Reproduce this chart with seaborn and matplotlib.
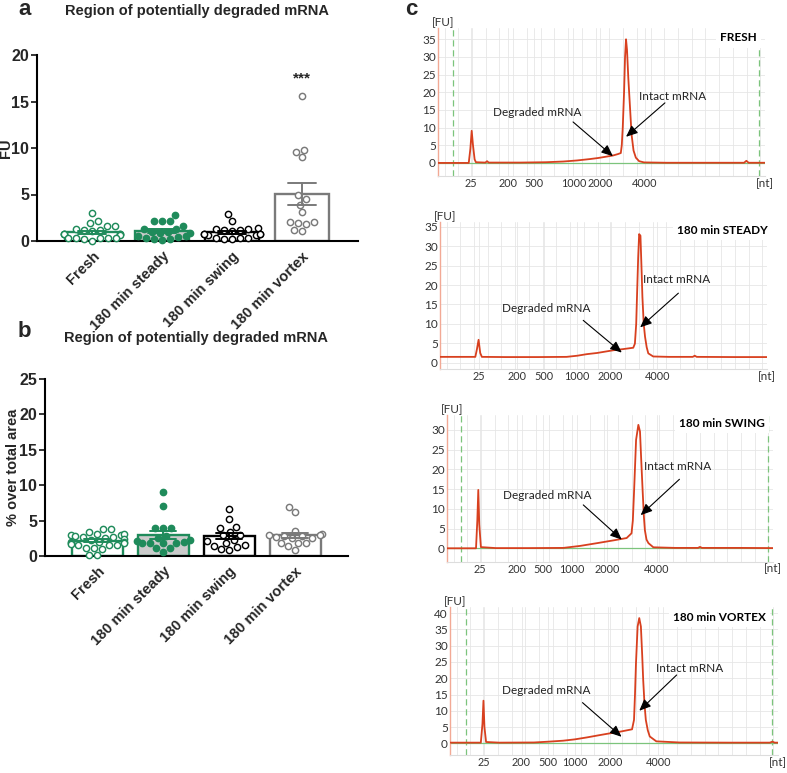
import numpy as np
import pandas as pd
import matplotlib
matplotlib.use("Agg")
import matplotlib.pyplot as plt
import seaborn as sns

# ---------------- data: panels a & b ----------------
groups = ["Fresh", "180 min steady", "180 min swing", "180 min vortex"]

a_fresh = [3.0, 2.1, 1.9, 1.6, 1.6, 1.3, 1.2, 1.2, 1.1, 0.8, 0.7, 0.7, 0.8, 0.7, 0.6,
           0.3, 0.3, 0.3, 0.3, 0.2, 0.3, 0.05]
a_steady = [2.8, 2.2, 2.1, 2.1, 1.6, 1.3, 1.3, 1.0, 0.9, 1.0, 0.9, 0.5, 0.5, 0.45,
            0.1, 0.2, 0.2, 0.3]
a_swing = [2.9, 2.2, 1.3, 1.2, 1.3, 1.4, 1.1, 1.2, 0.7, 0.7, 0.6, 0.7, 0.6, 0.7,
           0.3, 0.3, 0.2, 0.3, 0.2]
a_vortex = [15.6, 9.6, 9.8, 9.0, 4.9, 4.5, 3.9, 3.1, 1.9, 2.0, 1.8, 2.0, 1.2, 1.1]

b_fresh = [3.8, 3.8, 3.4, 3.1, 3.0, 3.0, 3.1, 2.7, 2.7, 2.6, 2.8, 2.4, 2.3, 2.0, 2.0,
           1.9, 2.0, 1.9, 1.6, 1.6, 1.5, 1.7, 1.1, 1.0, 1.2, 0.1, 0.1]
b_steady = [9.1, 7.1, 4.0, 4.0, 4.0, 2.8, 2.2, 2.1, 1.8, 1.8, 2.0, 1.9, 1.8, 1.1, 1.1,
            0.5, 2.6]
b_swing = [6.6, 5.2, 4.1, 3.9, 3.4, 3.0, 2.9, 2.3, 2.1, 1.9, 1.4, 1.5, 1.3, 1.0, 0.9]
b_vortex = [6.9, 6.2, 3.6, 2.9, 3.1, 2.9, 2.8, 2.7, 2.8, 2.6, 2.5, 1.8, 1.8, 1.8, 1.4, 0.8]

a_yticks = [0, 5, 10, 15, 20]
b_yticks = [0, 5, 10, 15, 20, 25]

# ---------------- data: panel c electropherograms ----------------
nt_labels = ["25", "200", "500", "1000", "2000", "4000"]

fresh_ticks = [10.1, 21.4, 29.4, 41.4, 49.5, 63.3]
fresh_x = [0, 5, 9.4, 9.9, 10.3, 10.7, 11.2, 11.6, 14.5, 15.0, 15.5, 25, 33, 38.3, 42.5,
           46.5, 49, 51.6, 53.5, 55.0, 55.9, 56.2, 56.5, 56.9, 57.2, 57.5, 57.8, 58.2,
           58.7, 59.2, 59.8, 60.5, 61.5, 63, 70, 85, 93.6, 94.3, 95, 100]
fresh_y = [0, 0, 0, 4, 9.1, 5, 1, 0.2, 0.1, 0.5, 0.1, 0.1, 0.2, 0.4, 0.7,
           1.1, 1.4, 1.8, 2.1, 2.5, 2.8, 5, 10, 20, 30, 35, 32, 24,
           16, 8, 3.5, 1.5, 0.5, 0.15, 0.05, 0.05, 0.05, 0.6, 0.05, 0.05]

steady_ticks = [11.9, 23.5, 31.8, 41.9, 52.0, 66.4]
steady_x = [0, 10.8, 11.3, 11.8, 12.3, 12.8, 20, 30, 38.7, 42, 44.9, 48, 53, 56, 59.1,
            59.6, 60.0, 60.3, 60.6, 60.9, 61.3, 61.6, 61.9, 62.3, 62.7, 63.2, 63.7,
            65.2, 70, 77.3, 77.9, 78.5, 90, 100]
steady_y = [1.5, 1.5, 3.5, 5.9, 2.5, 1.5, 1.45, 1.45, 1.5, 1.8, 2.2, 2.5, 3.2, 3.5, 3.85,
            4.9, 10, 18.6, 27, 33.1, 32.7, 25, 16.9, 10, 6.7, 4, 2.4,
            1.6, 1.5, 1.5, 1.8, 1.5, 1.45, 1.45]

swing_ticks = [10.1, 21.4, 29.5, 38.2, 49.0, 64.3]
swing_x = [0, 8.9, 9.3, 9.6, 9.9, 10.4, 15, 25, 35.7, 40.8, 46, 51, 55.1, 56.6, 57.0,
           57.4, 58.0, 58.7, 59.2, 59.6, 60.0, 60.4, 60.7, 61.2, 61.8, 63.3, 70, 77,
           77.6, 78.2, 90, 100]
swing_y = [0, 0, 7, 14.8, 6, 0.3, 0.05, 0.05, 0.1, 0.6, 1.3, 2.0, 2.6, 3.8, 7,
           14.8, 27.5, 31.3, 29.6, 22, 14.8, 8, 4.6, 2.2, 1.3, 0.25, 0.1, 0.1,
           0.35, 0.1, 0.1, 0.05]

vortex_ticks = [10.2, 21.8, 30.0, 38.1, 48.8, 63.5]
vortex_x = [0, 9.4, 9.9, 10.2, 10.5, 11.0, 15, 25.6, 30, 34.5, 38, 41.7, 45, 47.8, 52,
            55.5, 56.1, 56.4, 56.7, 57.2, 57.7, 58.2, 58.6, 58.9, 59.3, 59.7, 60.3,
            60.9, 62.9, 70, 85, 97.5, 98.3, 99, 100]
vortex_y = [0.2, 0.2, 6, 13.1, 5, 0.4, 0.2, 0.25, 0.5, 0.8, 1.2, 1.8, 2.4, 2.9, 3.6,
            4.3, 7.2, 15, 24.6, 35.9, 38.5, 35.9, 27, 19.5, 12, 7.2, 4,
            2.1, 0.6, 0.25, 0.2, 0.2, 0.5, 0.2, 0.2]

# ---------------- style ----------------
sns.set_theme(style="ticks")
plt.rcParams['font.family'] = ['Liberation Sans', 'DejaVu Sans']

GREEN = "#1f8b5b"
GREY = "#7a7a7a"
fill_cols = ["white", "#cbcbcb", "white", "white"]
edge_cols = [GREEN, GREEN, "black", GREY]
dot_face = ["white", GREEN, "white", "white"]
dot_edge = [GREEN, GREEN, "black", GREY]

fig = plt.figure(figsize=(7.87, 7.73), dpi=100)


def long_df(vals):
    return pd.DataFrame({
        "group": np.concatenate([[g] * len(v) for g, v in zip(groups, vals)]),
        "value": np.concatenate(vals),
    })


def bar_swarm(ax, vals, yticks, ylabel, label_x):
    df = long_df(vals)
    sns.barplot(data=df, x="group", y="value", order=groups, errorbar="se",
                capsize=0.4, width=0.77, color="white", saturation=1,
                err_kws={"linewidth": 1.4, "color": "k"}, ax=ax, zorder=1)
    for p, fc, ec in zip(ax.patches, fill_cols, edge_cols):
        p.set_facecolor(fc)
        p.set_edgecolor(ec)
        p.set_linewidth(1.7)
    for ln, ec in zip(ax.lines, edge_cols):
        ln.set_color(ec)
        ln.set_zorder(4)
    sns.swarmplot(data=df, x="group", y="value", order=groups, color="k",
                  size=4.5, linewidth=1.05, ax=ax, zorder=3)
    for c, fc, ec in zip(ax.collections, dot_face, dot_edge):
        c.set_facecolor(fc)
        c.set_edgecolor(ec)
        c.set_clip_on(False)
    ax.set_xlim(-0.79, 3.8)
    ax.set_ylim(yticks[0], yticks[-1])
    ax.set_yticks(yticks)
    ax.set_yticklabels([str(t) for t in yticks], fontsize=11.5, fontweight="bold")
    ax.set_xticks(range(len(groups)))
    ax.set_xticklabels(groups, rotation=45, ha="right", rotation_mode="anchor",
                       fontsize=10.5, fontweight="bold")
    ax.tick_params(axis="x", length=0, pad=6)
    ax.tick_params(axis="y", length=4, width=1.3, pad=1.5)
    ax.set_xlabel("")
    ax.set_ylabel(ylabel, fontsize=10.5, fontweight="bold")
    ax.yaxis.set_label_coords(label_x, 0.5)
    sns.despine(ax=ax)
    for s in ("left", "bottom"):
        ax.spines[s].set_linewidth(1.5)
        ax.spines[s].set_color("black")


# panel a
ax_a = fig.add_axes([37 / 787, 1 - 241 / 773, 321 / 787, 186 / 773])
bar_swarm(ax_a, [a_fresh, a_steady, a_swing, a_vortex], a_yticks, "FU", -0.076)
ax_a.text(3, 17.5, "***", ha="center", va="center", fontsize=11, fontweight="bold")

# panel b
ax_b = fig.add_axes([45 / 787, 1 - 556 / 773, 303 / 787, 177 / 773])
bar_swarm(ax_b, [b_fresh, b_steady, b_swing, b_vortex], b_yticks, "% over total area",
          -0.082)

fig.text(18 / 787, 1 - 15 / 773, "a", fontsize=16, fontweight="bold", va="baseline")
fig.text(197 / 787, 1 - 15 / 773, "Region of potentially degraded mRNA", fontsize=10.5,
         fontweight="bold", ha="center", va="baseline")
fig.text(18 / 787, 1 - 337 / 773, "b", fontsize=16, fontweight="bold", va="baseline")
fig.text(196 / 787, 1 - 342 / 773, "Region of potentially degraded mRNA", fontsize=10.5,
         fontweight="bold", ha="center", va="baseline")
fig.text(405 / 787, 1 - 15 / 773, "c", fontsize=16, fontweight="bold", va="baseline")

# ---------------- panel c ----------------
RED = "#d8401f"
ELFONT = ['Lato', 'DejaVu Sans']

panels = [
    dict(rect=[438, 28, 765, 176], x=fresh_x, y=fresh_y, ticks=fresh_ticks,
         ylim=(-3.7, 38.2), yticks=list(range(0, 36, 5)), label="FRESH", lab=(97.5, 35.4),
         dashed=(4.6, 98.2), base=True,
         deg_t=(30.3, 14.4), deg_s=(41.3, 11.6), deg_e=(53.5, 1.9),
         int_t=(71.6, 18.7), int_s=(69.4, 17.0), int_e=(57.5, 7.4)),
    dict(rect=[440, 221.7, 767, 369.3], x=steady_x, y=steady_y, ticks=steady_ticks,
         ylim=(-1.7, 36.3), yticks=list(range(0, 36, 5)), label="180 min STEADY",
         lab=(100.3, 34.1), dashed=None, base=False,
         deg_t=(32.6, 13.9), deg_s=(43.8, 10.9), deg_e=(55.6, 2.6),
         int_t=(72.4, 21.3), int_s=(72.9, 17.9), int_e=(61.2, 9.1)),
    dict(rect=[447, 415, 773, 561.7], x=swing_x, y=swing_y, ticks=swing_ticks,
         ylim=(-3.4, 33.8), yticks=list(range(0, 31, 5)), label="180 min SWING",
         lab=(97.5, 31.7), dashed=(4.3, 98.6), base=True,
         deg_t=(30.6, 13.5), deg_s=(41.8, 11.0), deg_e=(53.6, 2.2),
         int_t=(70.8, 20.7), int_s=(71.3, 17.5), int_e=(59.4, 8.4)),
    dict(rect=[450, 606.7, 778, 755], x=vortex_x, y=vortex_y, ticks=vortex_ticks,
         ylim=(-3.6, 42), yticks=list(range(0, 41, 5)), label="180 min VORTEX",
         lab=(96.3, 38.8), dashed=(4.9, 98.1), base=True,
         deg_t=(29.2, 16.2), deg_s=(40.4, 12.5), deg_e=(52.3, 2.0),
         int_t=(73.2, 23.1), int_s=(69.1, 21.0), int_e=(57.7, 10.0)),
]

for P in panels:
    l, t, r, b = P["rect"]
    ax = fig.add_axes([l / 787, 1 - b / 773, (r - l) / 787, (b - t) / 773])
    ax.set_facecolor("white")
    ax.set_axisbelow(True)
    ax.set_xlim(0, 100)
    ax.set_ylim(*P["ylim"])
    ax.set_xticks(np.arange(2, 100, 4.2), minor=True)
    ax.grid(True, which="both", axis="x", color="#e6e6e6", lw=0.6)
    ax.grid(True, which="major", axis="y", color="#e6e6e6", lw=0.6)
    if P["dashed"] is not None:
        for xd in P["dashed"]:
            ax.axvline(xd, color="#7cc47c", lw=0.9, ls=(0, (5, 3)), zorder=1)
    if P["base"]:
        ax.axhline(0, color="#7cc47c", lw=0.9, zorder=1)
    sns.lineplot(x=P["x"], y=P["y"], ax=ax, color=RED, lw=1.3, estimator=None,
                 sort=False, zorder=3)
    ax.set_xticks(P["ticks"])
    ax.set_xticklabels(nt_labels, fontsize=7.8, family=ELFONT, color="#333333")
    ax.set_yticks(P["yticks"])
    ax.set_yticklabels([str(v) for v in P["yticks"]], fontsize=8.5, family=ELFONT,
                       color="#333333")
    ax.tick_params(axis="both", which="both", length=0, pad=1.5)
    for s in ("top", "right"):
        ax.spines[s].set_visible(False)
    ax.spines["left"].set_color("#f2a995")
    ax.spines["left"].set_linewidth(1.0)
    ax.spines["bottom"].set_color("#dddddd")
    ax.spines["bottom"].set_linewidth(0.8)
    ax.text(0.015, 1.0, "[FU]", transform=ax.transAxes, ha="center", va="bottom",
            fontsize=8.5, family=ELFONT, color="#333333")
    ax.text(1.0, -0.05, "[nt]", transform=ax.transAxes, ha="center", va="center",
            fontsize=8.5, family=ELFONT, color="#333333")
    ax.text(P["lab"][0], P["lab"][1], P["label"], ha="right", va="center",
            fontsize=8.5, fontweight="bold", family=ELFONT, color="black", zorder=6,
            bbox=dict(facecolor="white", edgecolor="none", pad=3))
    ax.text(*P["deg_t"], "Degraded mRNA", ha="center", va="center", fontsize=8.5,
            family=ELFONT, color="#222222", zorder=6)
    ax.text(*P["int_t"], "Intact mRNA", ha="center", va="center", fontsize=8.5,
            family=ELFONT, color="#222222", zorder=6)
    for s_, e_ in ((P["deg_s"], P["deg_e"]), (P["int_s"], P["int_e"])):
        ax.annotate("", xy=e_, xytext=s_, zorder=7,
                    arrowprops=dict(arrowstyle="-|>,head_length=0.7,head_width=0.3",
                                    color="black", lw=0.8, shrinkA=0, shrinkB=0,
                                    mutation_scale=10))
    ax.set_xlabel("")
    ax.set_ylabel("")

fig.savefig("out.png", dpi=100)
